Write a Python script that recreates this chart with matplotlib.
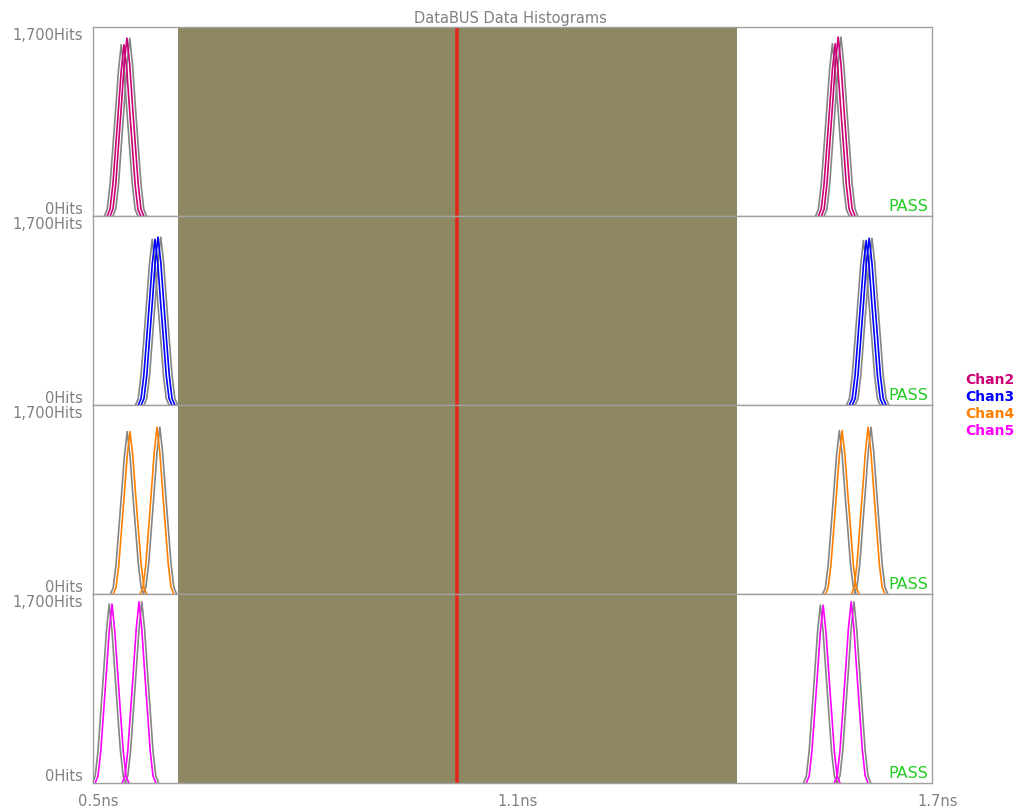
import matplotlib
matplotlib.use('Agg')
import matplotlib.pyplot as plt
import numpy as np

# histogram data: each peak is (start time in ns, hits per 0.004 ns bin)
bin_width = 0.004
chan_names = ['Chan2', 'Chan3', 'Chan4', 'Chan5']
chan_colors = ['#cc0077', '#0000ff', '#ff8000', '#ff00ff']

chan2_peaks = [
    (0.5203, [0, 60, 275, 610, 950, 1300, 1540, 1320, 960, 620, 280, 58, 0]),
    (0.5246, [0, 66, 290, 645, 995, 1365, 1600, 1355, 985, 635, 292, 62, 0]),
    (1.5375, [0, 62, 280, 615, 960, 1315, 1550, 1310, 965, 625, 276, 60, 0]),
    (1.5418, [0, 64, 292, 650, 1000, 1370, 1610, 1365, 995, 642, 288, 65, 0]),
]
chan3_peaks = [
    (0.5647, [0, 58, 268, 595, 925, 1265, 1490, 1270, 920, 600, 270, 60, 0]),
    (0.5690, [0, 61, 272, 605, 935, 1285, 1510, 1280, 940, 598, 275, 58, 0]),
    (1.5819, [0, 59, 265, 590, 920, 1255, 1480, 1262, 915, 592, 268, 57, 0]),
    (1.5862, [0, 60, 270, 600, 930, 1275, 1500, 1272, 928, 602, 266, 61, 0]),
]
chan4_peaks = [
    (0.5289, [0, 58, 262, 585, 905, 1240, 1460, 1245, 900, 580, 265, 56, 0]),
    (0.5676, [0, 62, 268, 598, 932, 1278, 1500, 1270, 925, 600, 272, 60, 0]),
    (1.5475, [0, 57, 265, 588, 912, 1250, 1470, 1248, 908, 590, 262, 59, 0]),
    (1.5847, [0, 61, 270, 602, 928, 1272, 1500, 1276, 930, 598, 268, 60, 0]),
]
chan5_peaks = [
    (0.5032, [0, 64, 290, 645, 998, 1368, 1610, 1362, 1000, 640, 292, 63, 0]),
    (0.5418, [0, 66, 294, 652, 1010, 1385, 1630, 1382, 1008, 655, 290, 65, 0]),
    (1.5203, [0, 63, 288, 640, 992, 1360, 1600, 1358, 990, 642, 286, 64, 0]),
    (1.5604, [0, 65, 295, 650, 1012, 1388, 1630, 1380, 1006, 652, 294, 66, 0]),
]
all_peaks = [chan2_peaks, chan3_peaks, chan4_peaks, chan5_peaks]

# gray envelope sits slightly outside each edge peak
gray_shift = [-0.004, 0.004, -0.004, 0.004]

x_min, x_max = 0.5, 1.7
y_max = 1700
x_ticks = [0.5, 1.1, 1.7]
x_tick_labels = ['0.5ns', '1.1ns', '1.7ns']
y_tick_labels = ['0Hits', '1,700Hits']
mask_start, mask_end = 0.622, 1.421
center_time = 1.021

plt.rcParams['font.family'] = ['DejaVu Sans']
text_gray = '#808080'

fig = plt.figure(figsize=(10.21, 8.12), dpi=100)
left, width = 93 / 1021, 839 / 1021
top, bottom = 1 - 28 / 812, 1 - 784 / 812
h = (top - bottom) / 4

for i, peaks in enumerate(all_peaks):
    ax = fig.add_axes([left, top - (i + 1) * h, width, h])
    ax.set_xlim(x_min, x_max)
    ax.set_ylim(0, y_max)
    ax.axvspan(mask_start, mask_end, color='#8d8862', zorder=1, lw=0)
    ax.axvline(center_time, color='#e02a1c', lw=2.6, zorder=2)
    for j, (start, counts) in enumerate(peaks):
        t = start + bin_width * np.arange(len(counts))
        ax.plot(t + gray_shift[j], counts, color='#858585', lw=1.2, zorder=3)
    for j, (start, counts) in enumerate(peaks):
        t = start + bin_width * np.arange(len(counts))
        ax.plot(t, counts, color=chan_colors[i], lw=1.2, zorder=4)
    ax.text(0.995, 0.015, 'PASS', transform=ax.transAxes, ha='right', va='bottom',
            color='#22cc22', fontsize=11.5, zorder=5)
    ax.set_xticks([])
    ax.set_yticks([])
    for s in ax.spines.values():
        s.set_color('#a0a0a0')
        s.set_linewidth(1.0)
    ax.text(-0.012, 1.0, y_tick_labels[1], transform=ax.transAxes, ha='right',
            va='top', color=text_gray, fontsize=10.5)
    ax.text(-0.012, 0.0, y_tick_labels[0], transform=ax.transAxes, ha='right',
            va='bottom', color=text_gray, fontsize=10.5)
    if i == 3:
        for xt, lab in zip(x_ticks, x_tick_labels):
            ax.text(xt + 0.008, -0.055, lab, transform=ax.get_xaxis_transform(),
                    ha='center', va='top', color=text_gray, fontsize=10.5)

fig.text(510 / 1021, 1 - 18 / 812, 'DataBUS Data Histograms', ha='center',
         va='center', color=text_gray, fontsize=10.5)

for k, (name, col) in enumerate(zip(chan_names, chan_colors)):
    fig.text(965 / 1021, 1 - (380 + 17 * k) / 812, name, ha='left', va='center',
             color=col, fontsize=10, fontweight='bold')

fig.savefig('out.png', dpi=100)
